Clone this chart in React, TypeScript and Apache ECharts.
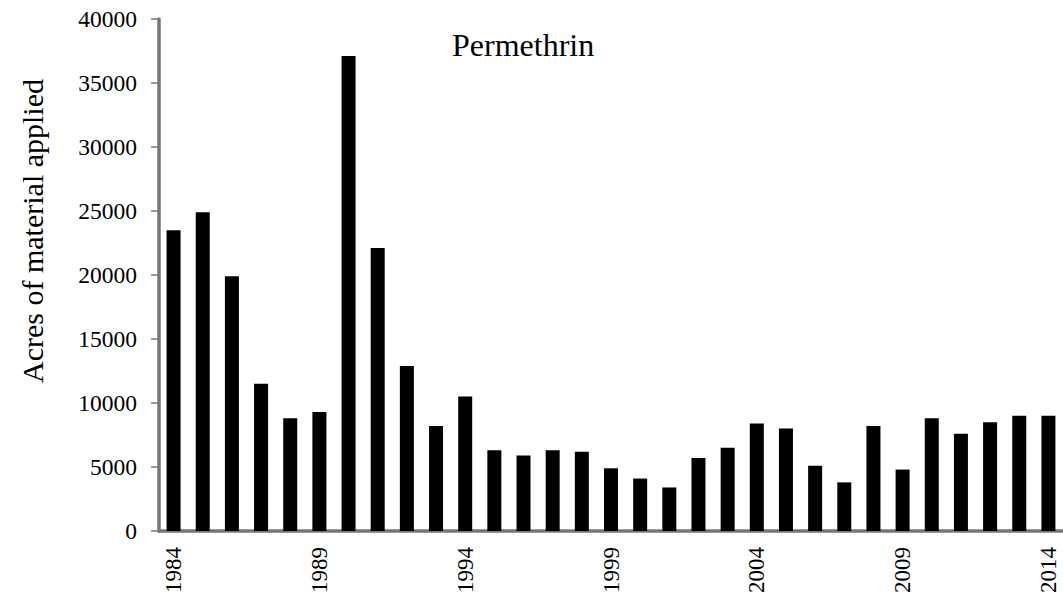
import React, { useEffect, useRef } from "react";
import * as echarts from "echarts";

const years = [
  "1984", "1985", "1986", "1987", "1988", "1989", "1990", "1991", "1992", "1993",
  "1994", "1995", "1996", "1997", "1998", "1999", "2000", "2001", "2002", "2003",
  "2004", "2005", "2006", "2007", "2008", "2009", "2010", "2011", "2012", "2013", "2014",
];
const acres = [
  23500, 24900, 19900, 11500, 8800, 9300, 37100, 22100, 12900, 8200,
  10500, 6300, 5900, 6300, 6200, 4900, 4100, 3400, 5700, 6500,
  8400, 8000, 5100, 3800, 8200, 4800, 8800, 7600, 8500, 9000, 9000,
];
const chartTitle = "Permethrin";
const yAxisTitle = "Acres of material applied";

const FONT = "Liberation Serif";
const AXIS_GRAY = "#767676";

export default function App() {
  const ref = useRef<HTMLDivElement>(null);
  useEffect(() => {
    if (!ref.current) return;
    const chart = echarts.init(ref.current, undefined, { renderer: "svg" });
    chart.setOption({
      animation: false,
      backgroundColor: "#ffffff",
      textStyle: { fontFamily: FONT },
      grid: { left: 159, right: -5, top: 19, bottom: 65, containLabel: false },
      xAxis: {
        type: "category",
        data: years,
        boundaryGap: true,
        axisLine: { show: true, lineStyle: { color: AXIS_GRAY, width: 3.5 } },
        axisTick: { show: false },
        axisLabel: {
          interval: 4,
          rotate: 90,
          margin: 16,
          color: "#000",
          fontFamily: FONT,
          fontSize: 23,
        },
        splitLine: { show: false },
      },
      yAxis: {
        type: "value",
        min: 0,
        max: 40000,
        interval: 5000,
        axisLine: { show: true, lineStyle: { color: AXIS_GRAY, width: 3.5 } },
        axisTick: { show: true, length: 8, lineStyle: { color: AXIS_GRAY, width: 1.5 } },
        axisLabel: {
          margin: 22,
          color: "#000",
          fontFamily: FONT,
          fontSize: 23.5,
          formatter: (v: number) => String(v),
        },
        splitLine: { show: false },
      },
      graphic: [
        {
          type: "text",
          x: 452,
          y: 45,
          style: {
            text: chartTitle,
            fill: "#000",
            fontFamily: FONT,
            fontSize: 32,
            textAlign: "left",
            textVerticalAlign: "middle",
          },
        },
        {
          type: "text",
          x: 32,
          y: 231,
          rotation: Math.PI / 2,
          style: {
            text: yAxisTitle,
            fill: "#000",
            fontFamily: FONT,
            fontSize: 30,
            textAlign: "center",
            textVerticalAlign: "middle",
          },
        },
      ],
      series: [
        {
          type: "bar",
          data: acres,
          barWidth: 14,
          itemStyle: { color: "#000" },
        },
      ],
    });
    return () => chart.dispose();
  }, []);
  return (
    <div
      ref={ref}
      style={{ position: "absolute", left: 0, top: 0, width: 1063, height: 596 }}
    />
  );
}
